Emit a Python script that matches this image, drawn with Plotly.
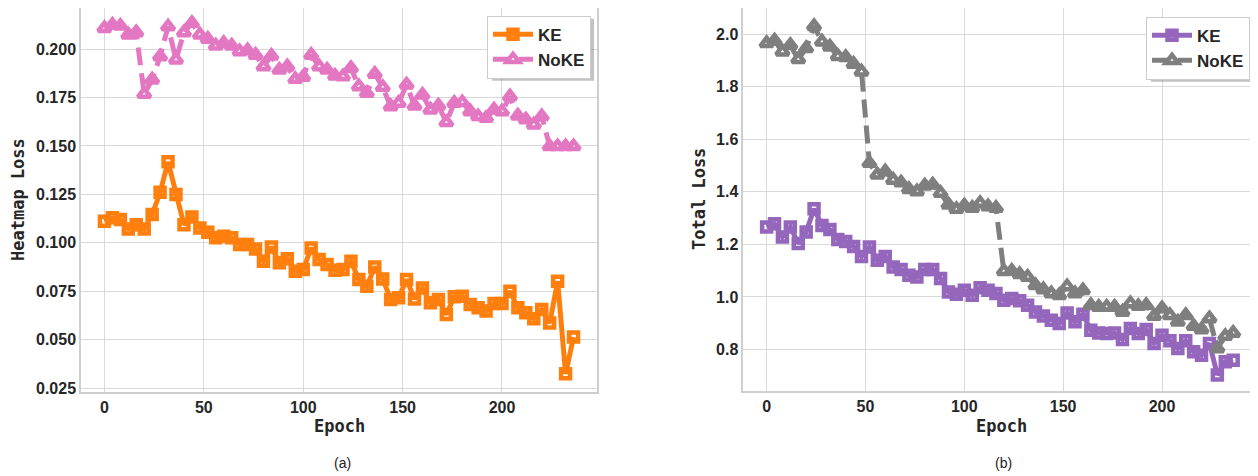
import plotly.graph_objects as go

# page body has an 8px margin, so the figure is drawn at (8, 8) in the window
OFF = 8
W, H = 1258 - OFF, 476 - OFF

epochs = [0, 4, 8, 12, 16, 20, 24, 28, 32, 36, 40, 44, 48, 52, 56, 60, 64, 68, 72, 76,
          80, 84, 88, 92, 96, 100, 104, 108, 112, 116, 120, 124, 128, 132, 136, 140, 144, 148, 152, 156,
          160, 164, 168, 172, 176, 180, 184, 188, 192, 196, 200, 204, 208, 212, 216, 220, 224, 228, 232, 236]

heat_ke = [0.1111, 0.1129, 0.1120, 0.1072, 0.1094, 0.1072, 0.1146, 0.1261, 0.1418, 0.1249,
           0.1094, 0.1134, 0.1077, 0.1055, 0.1026, 0.1034, 0.1026, 0.0991, 0.0991, 0.0969,
           0.0905, 0.0979, 0.0897, 0.0918, 0.0854, 0.0862, 0.0974, 0.0914, 0.0888, 0.0859,
           0.0862, 0.0905, 0.0811, 0.0776, 0.0876, 0.0814, 0.0708, 0.0717, 0.0811, 0.0711,
           0.0767, 0.0691, 0.0708, 0.0630, 0.0722, 0.0725, 0.0682, 0.0665, 0.0648, 0.0687,
           0.0687, 0.0750, 0.0665, 0.0639, 0.0608, 0.0656, 0.0587, 0.0802, 0.0324, 0.0514]

heat_noke = [0.2108, 0.2125, 0.2120, 0.2074, 0.2086, 0.1768, 0.1842, 0.1962, 0.2116, 0.1945,
             0.2086, 0.2134, 0.2074, 0.2052, 0.2017, 0.2031, 0.2017, 0.1988, 0.1993, 0.1970,
             0.1910, 0.1965, 0.1893, 0.1910, 0.1845, 0.1856, 0.1970, 0.1910, 0.1893, 0.1862,
             0.1859, 0.1902, 0.1807, 0.1773, 0.1872, 0.1804, 0.1704, 0.1722, 0.1816, 0.1708,
             0.1764, 0.1687, 0.1708, 0.1622, 0.1722, 0.1725, 0.1678, 0.1653, 0.1644, 0.1687,
             0.1678, 0.1755, 0.1656, 0.1636, 0.1610, 0.1653, 0.1498, 0.1498, 0.1498, 0.1498]

total_ke = [1.266, 1.278, 1.228, 1.266, 1.203, 1.247, 1.335, 1.272, 1.256, 1.218,
            1.211, 1.192, 1.154, 1.190, 1.139, 1.154, 1.114, 1.104, 1.082, 1.076,
            1.104, 1.104, 1.070, 1.019, 1.010, 1.025, 1.006, 1.035, 1.025, 1.013,
            0.987, 0.994, 0.985, 0.968, 0.943, 0.927, 0.911, 0.899, 0.939, 0.905,
            0.934, 0.873, 0.863, 0.861, 0.863, 0.838, 0.880, 0.861, 0.876, 0.823,
            0.854, 0.833, 0.804, 0.833, 0.791, 0.778, 0.823, 0.703, 0.753, 0.759]

total_noke = [1.965, 1.975, 1.933, 1.958, 1.904, 1.946, 2.030, 1.971, 1.952, 1.916,
              1.912, 1.886, 1.857, 1.509, 1.465, 1.477, 1.445, 1.435, 1.410, 1.401,
              1.423, 1.427, 1.395, 1.351, 1.334, 1.347, 1.338, 1.357, 1.344, 1.338,
              1.098, 1.099, 1.086, 1.076, 1.044, 1.028, 1.013, 1.006, 1.040, 1.013,
              1.025, 0.968, 0.962, 0.962, 0.962, 0.943, 0.975, 0.965, 0.968, 0.927,
              0.956, 0.930, 0.905, 0.930, 0.889, 0.876, 0.918, 0.804, 0.851, 0.863]

x_ticks = [0, 50, 100, 150, 200]
heat_ticks = [0.025, 0.050, 0.075, 0.100, 0.125, 0.150, 0.175, 0.200]
total_ticks = [0.8, 1.0, 1.2, 1.4, 1.6, 1.8, 2.0]
series_names = ["KE", "NoKE"]

ORANGE, PINK, PURPLE, GRAY = "#ff7f0e", "#e377c2", "#9467bd", "#7f7f7f"
TICKFONT = dict(family="Liberation Sans, Arial", size=16, color="#262626", weight="bold")
TITLEFONT = dict(family="DejaVu Sans Mono", size=17, color="#262626")
GRID = "#d9d9d9"


def px(x):
    return (x - OFF) / W


def py(y):
    return 1 - (y - OFF) / H


fig = go.Figure()


def add_series(xa, ya, yvals, name, color, symbol, size, dash, legend):
    fig.add_trace(go.Scatter(
        x=epochs, y=yvals, name=name, xaxis=xa, yaxis=ya, mode="lines+markers",
        line=dict(color=color, width=5, dash=dash),
        marker=dict(symbol=symbol, size=size, color=color, line=dict(color=color, width=4.5)),
        legend=legend,
    ))


add_series("x", "y", heat_ke, series_names[0], ORANGE, "square-open", 9, "solid", "legend")
add_series("x", "y", heat_noke, series_names[1], PINK, "triangle-up-open", 11, "18px,8px", "legend")
add_series("x2", "y2", total_ke, series_names[0], PURPLE, "square-open", 9, "solid", "legend2")
add_series("x2", "y2", total_noke, series_names[1], GRAY, "triangle-up-open", 11, "18px,8px", "legend2")

axis_common = dict(showgrid=True, gridcolor=GRID, gridwidth=1.3, zeroline=False,
                   showline=True, linecolor="#cfcfcf", linewidth=1.5, mirror=True,
                   ticks="", tickfont=TICKFONT, automargin=False)

legend_common = dict(bgcolor="white", bordercolor="#cccccc", borderwidth=1,
                     font=dict(family="Liberation Sans, Arial", size=17, color="#262626", weight="bold"),
                     itemwidth=40, xanchor="right", yanchor="top", tracegroupgap=0)

fig.update_layout(
    width=W, height=H,
    margin=dict(l=0, r=0, t=0, b=0, pad=0),
    paper_bgcolor="white", plot_bgcolor="white",
    xaxis=dict(domain=[px(81), px(597)], range=[-11.8, 247.8], tickvals=x_ticks,
               anchor="y", **axis_common),
    yaxis=dict(domain=[py(391.7), py(8.0)], range=[0.0232, 0.2212], tickvals=heat_ticks,
               tickformat=".3f", anchor="x", **axis_common),
    xaxis2=dict(domain=[px(743.3), px(1256.5)], range=[-11.8, 247.8], tickvals=x_ticks,
                anchor="y2", **axis_common),
    yaxis2=dict(domain=[py(391), py(8.3)], range=[0.642, 2.098], tickvals=total_ticks,
                tickformat=".1f", anchor="x2", **axis_common),
    legend=dict(x=px(591), y=py(15.7), **legend_common),
    legend2=dict(x=px(1250), y=py(16.7), **legend_common),
    showlegend=True,
)

# soft drop shadows behind the two legend boxes (legend box is about 102 x 62 px)
for (lx1, ly0) in [(591, 15.7), (1250, 16.7)]:
    lx0, ly1 = lx1 - 102, ly0 + 62
    fig.add_shape(type="rect", xref="paper", yref="paper", layer="above",
                  x0=px(lx0 + 3), x1=px(lx1 + 3), y0=py(ly1 + 3), y1=py(ly0 + 3),
                  fillcolor="rgba(120,120,120,0.45)", line=dict(width=0))

annotations = [
    dict(text="<b>Epoch</b>", x=px(339), y=py(426), font=TITLEFONT),
    dict(text="<b>Epoch</b>", x=px(1001), y=py(426), font=TITLEFONT),
    dict(text="<b>Heatmap Loss</b>", x=px(18), y=py(200), textangle=-90, font=TITLEFONT),
    dict(text="<b>Total Loss</b>", x=px(699), y=py(199), textangle=-90, font=TITLEFONT),
    dict(text="(a)", x=px(342), y=py(463), font=dict(family="Liberation Sans, Arial", size=14, color="#222")),
    dict(text="(b)", x=px(1003), y=py(463), font=dict(family="Liberation Sans, Arial", size=14, color="#222")),
]
for a in annotations:
    fig.add_annotation(xref="paper", yref="paper", showarrow=False,
                       xanchor="center", yanchor="middle", **a)

fig.write_html("out.html")
